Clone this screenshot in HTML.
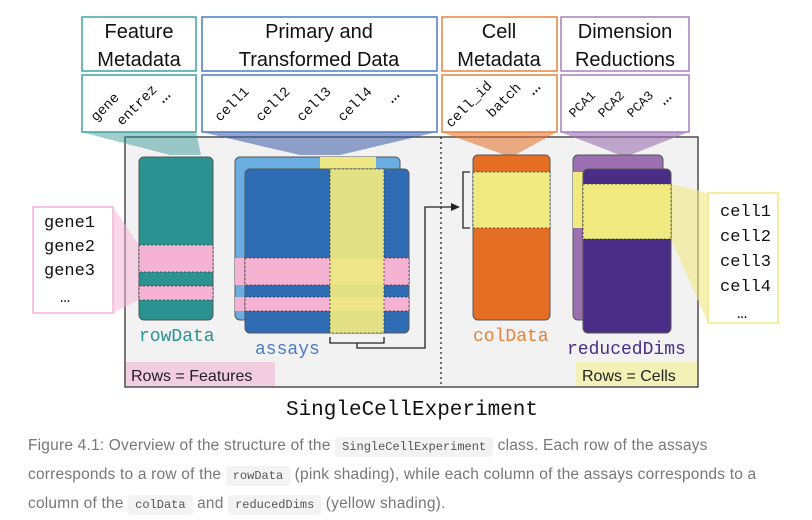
<!DOCTYPE html>
<html><head><meta charset="utf-8"><style>
body{margin:0;width:812px;height:520px;background:#fff;overflow:hidden;font-family:"Liberation Sans",sans-serif}
svg{position:absolute;left:0;top:0}
.cap{position:absolute;left:28px;top:432px;white-space:nowrap;font-size:15.5px;line-height:28px;color:#777;letter-spacing:0.2px}
code{font-family:"Liberation Mono",monospace;font-size:12px;background:#f3f3f3;padding:3px 7px;border-radius:3px;color:#555;letter-spacing:0}
</style></head><body>
<svg width="812" height="425" viewBox="0 0 812 425" font-family="Liberation Sans, sans-serif">
<rect x="125" y="137" width="573" height="250" fill="#f2f2f2" stroke="#333" stroke-width="1.3"/>
<line x1="441" y1="137" x2="441" y2="387" stroke="#222" stroke-dasharray="2,3" stroke-width="1.3"/>
<polygon points="81,132 196,132 201,155 170,155" fill="#2a9290" opacity="0.45"/>
<polygon points="201,132 437,132 340,155 300,155" fill="#3a5aa8" opacity="0.55"/>
<polygon points="441,132 557,132 515,155 505,155" fill="#e46e24" opacity="0.55"/>
<polygon points="560,132 689,132 630,155 620,155" fill="#9b6fb0" opacity="0.6"/>
<g font-size="20" text-anchor="middle" fill="#111">
<rect x="82" y="17" width="114" height="54" fill="#fff" stroke="#3fa39f" stroke-width="1.5"/>
<text x="139" y="38">Feature</text><text x="139" y="66">Metadata</text>
<rect x="82" y="75" width="114" height="57" fill="#fff" stroke="#3fa39f" stroke-width="1.5"/>
<rect x="202" y="17" width="235" height="54" fill="#fff" stroke="#4a7cc4" stroke-width="1.5"/>
<text x="319" y="38">Primary and</text><text x="319" y="66">Transformed Data</text>
<rect x="202" y="75" width="235" height="57" fill="#fff" stroke="#4a7cc4" stroke-width="1.5"/>
<rect x="442" y="17" width="115" height="54" fill="#fff" stroke="#e8823a" stroke-width="1.5"/>
<text x="499" y="38">Cell</text><text x="499" y="66">Metadata</text>
<rect x="442" y="75" width="115" height="57" fill="#fff" stroke="#e8823a" stroke-width="1.5"/>
<rect x="561" y="17" width="128" height="54" fill="#fff" stroke="#a57fc2" stroke-width="1.5"/>
<text x="625" y="38">Dimension</text><text x="625" y="66">Reductions</text>
<rect x="561" y="75" width="128" height="57" fill="#fff" stroke="#a57fc2" stroke-width="1.5"/>
</g>
<g font-family="Liberation Mono, monospace" font-size="14" fill="#111">
<text transform="translate(96,122) rotate(-45)">gene</text>
<text transform="translate(122,126) rotate(-45)">entrez</text>
<text font-size="20" transform="translate(163,104) rotate(-45)">…</text>
<text transform="translate(220,122) rotate(-45)">cell1</text>
<text transform="translate(261,122) rotate(-45)">cell2</text>
<text transform="translate(302,122) rotate(-45)">cell3</text>
<text transform="translate(343,122) rotate(-45)">cell4</text>
<text font-size="20" transform="translate(392,104) rotate(-45)">…</text>
<text transform="translate(451,128) rotate(-45)">cell_id</text>
<text transform="translate(492,118) rotate(-45)">batch</text>
<text font-size="20" transform="translate(533,96) rotate(-45)">…</text>
<text font-size="13" transform="translate(574,118) rotate(-45)">PCA1</text>
<text font-size="13" transform="translate(603,118) rotate(-45)">PCA2</text>
<text font-size="13" transform="translate(632,118) rotate(-45)">PCA3</text>
<text font-size="20" transform="translate(664,106) rotate(-45)">…</text>
</g>
<polygon points="113,207 113,313 139,300 139,245" fill="#f5b2d3" opacity="0.5"/>
<rect x="33" y="207" width="80" height="106" fill="#fff" stroke="#f5b2d3" stroke-width="1.5"/>
<g font-family="Liberation Mono, monospace" font-size="17" fill="#111">
<text x="44" y="227">gene1</text><text x="44" y="251">gene2</text><text x="44" y="275">gene3</text><text x="60" y="302">…</text>
</g>
<rect x="139" y="157" width="74" height="163" rx="5" fill="#2a9290" stroke="#555"/>
<rect x="139" y="245" width="74" height="27" fill="#f5b2d3" stroke="#333" stroke-dasharray="2,2" stroke-width="0.8"/>
<rect x="139" y="286" width="74" height="14" fill="#f5b2d3" stroke="#333" stroke-dasharray="2,2" stroke-width="0.8"/>
<text x="139" y="341" font-family="Liberation Mono, monospace" font-size="18" fill="#2a9290">rowData</text>
<rect x="235" y="157" width="165" height="163" rx="5" fill="#6aade0" stroke="#555"/>
<rect x="320" y="157" width="56" height="12" fill="#ede884"/>
<rect x="235" y="258" width="10" height="27" fill="#f5b2d3"/>
<rect x="235" y="297" width="10" height="14" fill="#f5b2d3"/>
<rect x="245" y="169" width="164" height="164" rx="5" fill="#2e6db4" stroke="#555"/>
<rect x="245" y="258" width="164" height="27" fill="#f5b2d3" stroke="#333" stroke-dasharray="2,2" stroke-width="0.8"/>
<rect x="245" y="297" width="164" height="14" fill="#f5b2d3" stroke="#333" stroke-dasharray="2,2" stroke-width="0.8"/>
<rect x="330" y="169" width="54" height="164" fill="#ede884" opacity="0.95" stroke="#333" stroke-dasharray="2,2" stroke-width="0.8"/>
<text x="255" y="354" font-family="Liberation Mono, monospace" font-size="18" fill="#4a7cc4">assays</text>
<path d="M330,337 V343 H384 V337 M357,343 V348 H425 V207 H458" fill="none" stroke="#222" stroke-width="1.3"/>
<polygon points="460,207 451,203 451,211" fill="#222"/>
<path d="M470,172 H463 V228 H470" fill="none" stroke="#222" stroke-width="1.3"/>
<rect x="473" y="155" width="77" height="165" rx="5" fill="#e46e24" stroke="#555"/>
<rect x="473" y="172" width="77" height="56" fill="#f0ea80" stroke="#333" stroke-dasharray="2,2" stroke-width="0.8"/>
<text x="473" y="341" font-family="Liberation Mono, monospace" font-size="18" fill="#e8823a">colData</text>
<rect x="573" y="155" width="90" height="165" rx="5" fill="#9b6fb0" stroke="#555"/>
<rect x="573" y="172" width="10" height="56" fill="#f0ea80"/>
<polygon points="671,184 671,239 708,323 708,193" fill="#f0ea80" opacity="0.6"/>
<rect x="583" y="169" width="88" height="164" rx="5" fill="#4a2d87" stroke="#555"/>
<rect x="583" y="184" width="88" height="55" fill="#f0ea80" stroke="#333" stroke-dasharray="2,2" stroke-width="0.8"/>
<text x="567" y="354" font-family="Liberation Mono, monospace" font-size="18" fill="#4a2d87">reducedDims</text>
<rect x="708" y="193" width="70" height="130" fill="#fff" stroke="#f0ea80" stroke-width="1.5"/>
<g font-family="Liberation Mono, monospace" font-size="17" fill="#111">
<text x="720" y="216">cell1</text><text x="720" y="241">cell2</text><text x="720" y="266">cell3</text><text x="720" y="291">cell4</text><text x="737" y="318">…</text>
</g>
<rect x="126" y="362" width="149" height="24" fill="#f2cde0"/>
<text x="131" y="381" font-size="16" fill="#222">Rows = Features</text>
<rect x="576" y="362" width="121" height="24" fill="#f3f1b6"/>
<text x="582" y="381" font-size="16" fill="#222">Rows = Cells</text>
<text x="412" y="415" text-anchor="middle" font-family="Liberation Mono, monospace" font-size="21" fill="#111">SingleCellExperiment</text>
</svg>
<div class="cap">Figure 4.1: Overview of the structure of the <code>SingleCellExperiment</code> class. Each row of the assays<br>corresponds to a row of the <code>rowData</code> (pink shading), while each column of the assays corresponds to a<br>column of the <code>colData</code> and <code>reducedDims</code> (yellow shading).</div>
</body></html>
